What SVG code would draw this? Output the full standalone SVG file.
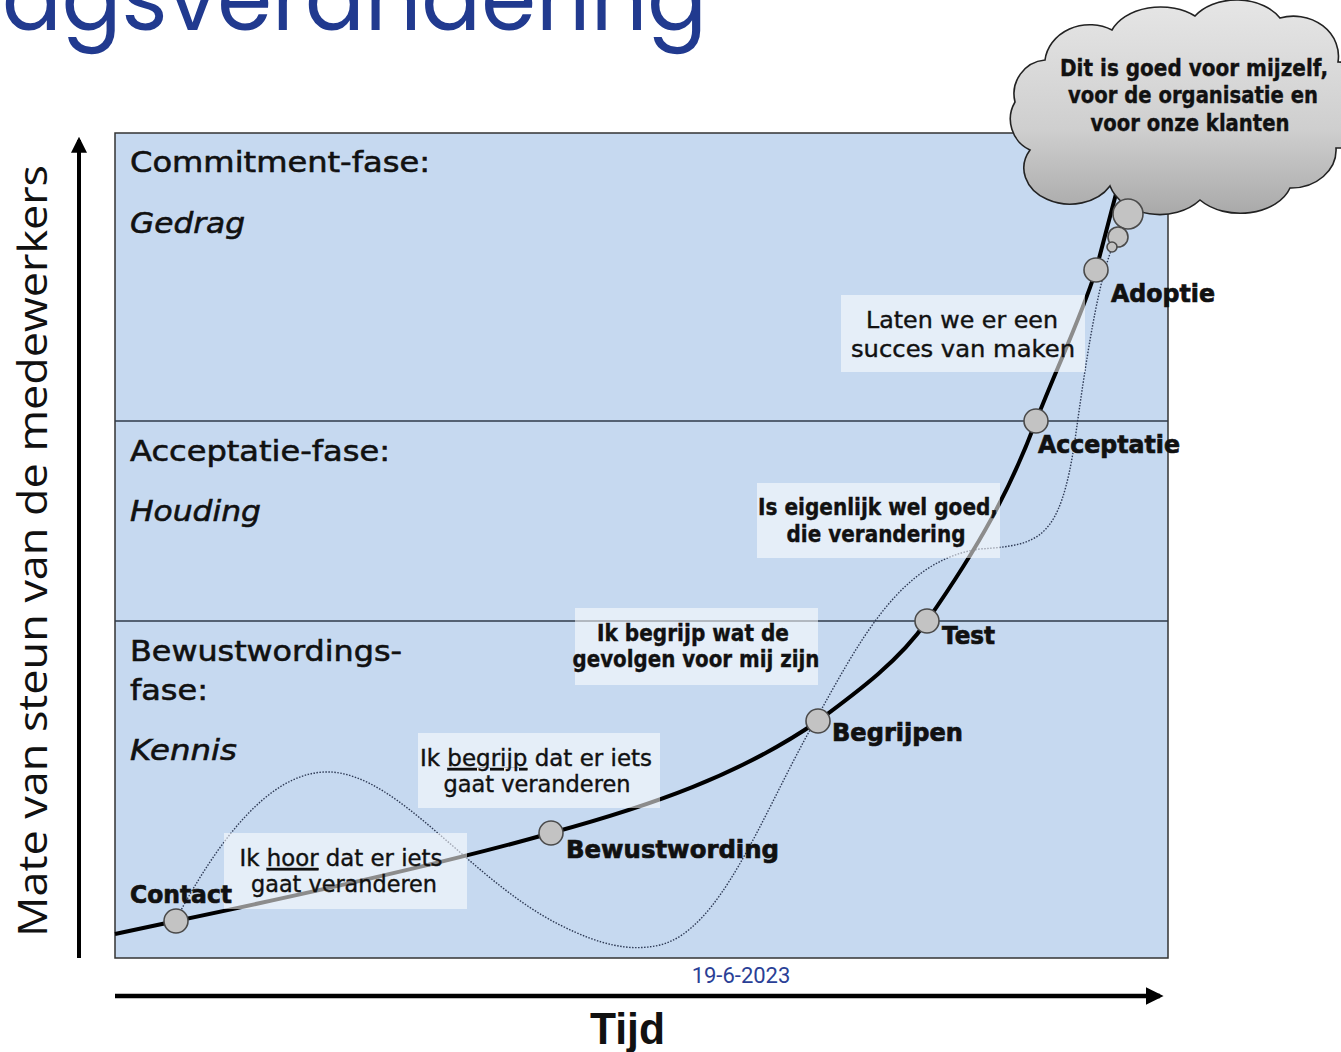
<svg xmlns="http://www.w3.org/2000/svg" width="1341" height="1052" viewBox="0 0 1341 1052">
<style>
.phase{font-family:"DejaVu Sans",Verdana,sans-serif;font-size:29px;fill:#111;stroke:#111;stroke-width:0.6;}
.phi{font-family:"DejaVu Sans",Verdana,sans-serif;font-size:29px;font-style:italic;fill:#111;stroke:#111;stroke-width:0.6;}
.node{font-family:"DejaVu Sans","Liberation Sans",sans-serif;font-size:24px;font-weight:bold;fill:#111;stroke:#111;stroke-width:0.7;}
.box{fill:#ffffff;fill-opacity:0.55;}
.bt{font-family:"DejaVu Sans","Liberation Sans",sans-serif;font-size:23px;fill:#111;text-anchor:middle;stroke:#111;stroke-width:0.4;}
.dot{fill:#c3c3c3;stroke:#4a4a4a;stroke-width:1.6;}
</style>
<defs>
<linearGradient id="cg" x1="0" y1="0" x2="0" y2="1">
<stop offset="0" stop-color="#e6e6e6"/>
<stop offset="0.6" stop-color="#cfcfcf"/>
<stop offset="1" stop-color="#a9a9a9"/>
</linearGradient>
<marker id="ah" markerWidth="4" markerHeight="4" refX="3.2" refY="2" orient="auto" markerUnits="strokeWidth">
<path d="M0,0 L4,2 L0,4 Z" fill="#000"/>
</marker>
</defs>
<rect width="1341" height="1052" fill="#ffffff"/>
<text x="2" y="30" font-family="Poppins,Inter,'Noto Sans',sans-serif" font-size="92" fill="#213a8f" textLength="705" lengthAdjust="spacingAndGlyphs">agsverandering</text>

<g id="chart">
<rect x="115" y="133" width="1053" height="825" fill="#c6d9f0" stroke="#333" stroke-width="1.5"/>
<line x1="115" y1="421" x2="1168" y2="421" stroke="#2f3a4a" stroke-width="1.5"/>
<line x1="115" y1="621" x2="1168" y2="621" stroke="#2f3a4a" stroke-width="1.5"/>
</g>

<g id="axes">
<line x1="79" y1="958" x2="79" y2="140" stroke="#000" stroke-width="4" marker-end="url(#ah)"/>
<line x1="115" y1="996" x2="1160" y2="996" stroke="#000" stroke-width="4.5" marker-end="url(#ah)"/>
<text transform="translate(47,937) rotate(-90)" font-family="'Open Sans','Noto Sans',sans-serif" font-size="40" fill="#111" textLength="772" lengthAdjust="spacingAndGlyphs">Mate van steun van de medewerkers</text>
<text x="590" y="1044" font-family="'Liberation Sans',Arial,sans-serif" font-size="44" font-weight="bold" fill="#111" textLength="75" lengthAdjust="spacingAndGlyphs">Tijd</text>
<text x="741" y="983" font-family="Roboto,'Liberation Sans',sans-serif" font-size="22" fill="#2a3f96" text-anchor="middle">19-6-2023</text>
</g>

<g id="phases">
<text class="phase" x="130" y="172" textLength="300" lengthAdjust="spacingAndGlyphs">Commitment-fase:</text>
<text class="phi" x="130" y="233" textLength="115" lengthAdjust="spacingAndGlyphs">Gedrag</text>
<text class="phase" x="130" y="461" textLength="260" lengthAdjust="spacingAndGlyphs">Acceptatie-fase:</text>
<text class="phi" x="130" y="521" textLength="131" lengthAdjust="spacingAndGlyphs">Houding</text>
<text class="phase" x="130" y="661" textLength="272" lengthAdjust="spacingAndGlyphs">Bewustwordings-</text>
<text class="phase" x="130" y="700" textLength="78" lengthAdjust="spacingAndGlyphs">fase:</text>
<text class="phi" x="130" y="760" textLength="107" lengthAdjust="spacingAndGlyphs">Kennis</text>
</g>

<g id="connectors">
<path d="M180,912 C230,820 280,770 330,772 C400,775 470,880 560,925 C600,945 630,952 660,945 C720,930 760,820 810,730 C860,640 900,560 980,549 C1040,545 1060,540 1075,440 C1090,330 1100,280 1112,248" fill="none" stroke="#2e3a55" stroke-width="1.4" stroke-dasharray="1.5,1.5"/>
<path d="M115,934 L176,921 C300,895 450,862 551,833 C650,806 740,775 818,721 C860,690 900,660 927,621 C980,545 1010,490 1036,421 C1060,360 1080,320 1096,270 L1117,190" fill="none" stroke="#000" stroke-width="4"/>
</g>

<g id="box-laten">
<rect class="box" x="841" y="295" width="244" height="77"/>
<text class="bt" x="962" y="328" textLength="192" lengthAdjust="spacingAndGlyphs">Laten we er een</text>
<text class="bt" x="963" y="357" textLength="224" lengthAdjust="spacingAndGlyphs">succes van maken</text>
</g>
<g id="box-eigenlijk">
<rect class="box" x="757" y="483" width="243" height="75"/>
<text class="bt" x="878" y="515" font-weight="bold" textLength="240" lengthAdjust="spacingAndGlyphs">Is eigenlijk wel goed,</text>
<text class="bt" x="876" y="542" font-weight="bold" textLength="179" lengthAdjust="spacingAndGlyphs">die verandering</text>
</g>
<g id="box-gevolgen">
<rect class="box" x="575" y="608" width="243" height="77"/>
<text class="bt" x="693" y="641" font-weight="bold" textLength="192" lengthAdjust="spacingAndGlyphs">Ik begrijp wat de</text>
<text class="bt" x="696" y="667" font-weight="bold" textLength="247" lengthAdjust="spacingAndGlyphs">gevolgen voor mij zijn</text>
</g>
<g id="box-begrijp">
<rect class="box" x="418" y="733" width="242" height="75"/>
<text class="bt" x="536" y="766" textLength="232" lengthAdjust="spacingAndGlyphs">Ik <tspan text-decoration="underline">begrijp</tspan> dat er iets</text>
<text class="bt" x="537" y="792" textLength="187" lengthAdjust="spacingAndGlyphs">gaat veranderen</text>
</g>
<g id="box-hoor">
<rect class="box" x="224" y="833" width="243" height="76"/>
<text class="bt" x="341" y="866" textLength="203" lengthAdjust="spacingAndGlyphs">Ik <tspan text-decoration="underline">hoor</tspan> dat er iets</text>
<text class="bt" x="344" y="892" textLength="186" lengthAdjust="spacingAndGlyphs">gaat veranderen</text>
</g>

<g id="node-contact">
<circle class="dot" cx="176" cy="921" r="12"/>
<text class="node" x="130" y="903" textLength="102" lengthAdjust="spacingAndGlyphs">Contact</text>
</g>
<g id="node-bewustwording">
<circle class="dot" cx="551" cy="833" r="12"/>
<text class="node" x="566" y="858" textLength="213" lengthAdjust="spacingAndGlyphs">Bewustwording</text>
</g>
<g id="node-begrijpen">
<circle class="dot" cx="818" cy="721" r="12"/>
<text class="node" x="832" y="741" textLength="131" lengthAdjust="spacingAndGlyphs">Begrijpen</text>
</g>
<g id="node-test">
<circle class="dot" cx="927" cy="621" r="12"/>
<text class="node" x="942" y="644" textLength="53" lengthAdjust="spacingAndGlyphs">Test</text>
</g>
<g id="node-acceptatie">
<circle class="dot" cx="1036" cy="421" r="12"/>
<text class="node" x="1038" y="453" textLength="142" lengthAdjust="spacingAndGlyphs">Acceptatie</text>
</g>
<g id="node-adoptie">
<circle class="dot" cx="1096" cy="270" r="12"/>
<text class="node" x="1111" y="302" textLength="104" lengthAdjust="spacingAndGlyphs">Adoptie</text>
</g>

<g id="cloud">
<path d="M1045,60 A45,40 0 0 1 1112,30 A52,36 0 0 1 1195,16 A50,36 0 0 1 1280,18 A45,40 0 0 1 1338,62 A40,42 0 0 1 1336,148 A45,38 0 0 1 1290,188 A52,36 0 0 1 1200,200 A52,40 0 0 1 1110,186 A46,36 0 0 1 1030,150 A34,34 0 0 1 1015,102 A34,34 0 0 1 1045,60 Z" fill="url(#cg)" stroke="#222" stroke-width="1.6"/>
<circle class="dot" cx="1128" cy="214" r="15" stroke-width="1"/>
<circle class="dot" cx="1118" cy="237" r="10" stroke-width="1"/>
<circle class="dot" cx="1112" cy="247" r="5" stroke-width="1"/>
<text class="bt" x="1194" y="76" font-weight="bold" textLength="268" lengthAdjust="spacingAndGlyphs">Dit is goed voor mijzelf,</text>
<text class="bt" x="1193" y="103" font-weight="bold" textLength="250" lengthAdjust="spacingAndGlyphs">voor de organisatie en</text>
<text class="bt" x="1190" y="131" font-weight="bold" textLength="199" lengthAdjust="spacingAndGlyphs">voor onze klanten</text>
</g>
</svg>
